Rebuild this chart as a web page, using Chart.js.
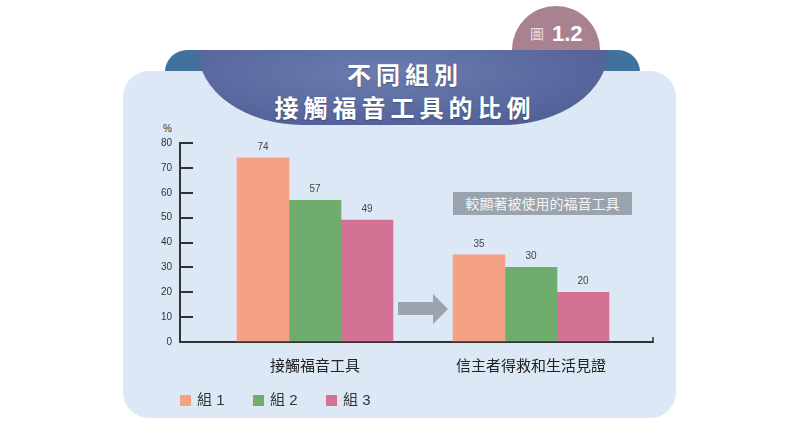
<!DOCTYPE html>
<html lang="zh-Hant">
<head>
    <meta charset="UTF-8">
    <title>不同組別接觸福音工具的比例</title>
    <script src="https://cdn.jsdelivr.net/npm/chart.js"></script>
    <style>
        body {
            margin: 0;
            width: 800px;
            height: 436px;
            overflow: hidden;
            background: #fff;
            position: relative;
            font-family: "Liberation Sans", "Noto Sans CJK TC", sans-serif;
        }
        .panel {
            position: absolute;
            left: 123px;
            top: 71px;
            width: 553px;
            height: 347px;
            background: #dde8f6;
            border-radius: 26px;
        }
        .ribbon {
            position: absolute;
            left: 165px;
            top: 50px;
            width: 475px;
            height: 26px;
            background: #41729b;
            border-radius: 22px 22px 0 0;
        }
        .badge {
            position: absolute;
            left: 512px;
            top: 6px;
            width: 88px;
            height: 88px;
            border-radius: 50%;
            background: #a98292;
        }
        .badge-text {
            position: absolute;
            left: 530px;
            top: 21px;
            color: #fff;
            white-space: nowrap;
        }
        .badge-text .fig {
            font-family: "Noto Sans CJK TC", sans-serif;
            font-size: 14px;
            color: #eadde2;
            vertical-align: 2px;
            margin-right: 8px;
        }
        .badge-text .num {
            font-family: "Liberation Sans", sans-serif;
            font-weight: bold;
            font-size: 22px;
        }
        .banner {
            position: absolute;
            left: 198px;
            top: 50px;
            width: 410px;
            height: 75px;
            background: radial-gradient(ellipse at 45% 30%, #6b7cb0 0%, #5a6aa0 55%, #4a598e 100%);
            border-radius: 0 0 105px 105px / 0 0 75px 75px;
        }
        .title {
            position: absolute;
            left: 200px;
            width: 400px;
            top: 57px;
            text-align: center;
            color: #fff;
            font-family: "Noto Sans CJK TC", sans-serif;
            font-weight: bold;
            font-size: 24px;
            line-height: 33px;
            letter-spacing: 5px;
            padding-left: 5px;
            text-shadow: 0 1px 2px rgba(0,0,0,0.25);
        }
        .chart-box {
            position: absolute;
            left: 0;
            top: 0;
            width: 800px;
            height: 436px;
        }
        .unit {
            position: absolute;
            left: 163px;
            top: 123px;
            font-size: 10px;
            color: #333;
        }
        .note {
            position: absolute;
            left: 453px;
            top: 192px;
            width: 179px;
            height: 23px;
            line-height: 23px;
            background: #9ba3ae;
            color: #f4f4f4;
            text-align: center;
            font-family: "Noto Sans CJK TC", sans-serif;
            font-size: 14px;
        }
        .arrow {
            position: absolute;
            left: 398px;
            top: 294px;
        }
        .legend {
            position: absolute;
            left: 180px;
            top: 388px;
            font-size: 15px;
            color: #333;
            white-space: nowrap;
        }
        .legend span.item {
            display: inline-block;
            width: 73px;
        }
        .legend i {
            display: inline-block;
            width: 11px;
            height: 11px;
            margin-right: 6px;
            vertical-align: -1px;
        }
        .legend .zh {
            font-family: "Noto Sans CJK TC", sans-serif;
        }
    </style>
</head>
<body>
    <div class="ribbon"></div>
    <div class="badge"></div>
    <div class="badge-text"><span class="fig">圖</span><span class="num">1.2</span></div>
    <div class="panel"></div>
    <div class="banner"></div>
    <div class="title">不同組別<br>接觸福音工具的比例</div>
    <div class="unit">%</div>
    <div class="note">較顯著被使用的福音工具</div>
    <svg class="arrow" width="50" height="31">
        <polygon points="0,8 35,8 35,0 50,15 35,30 35,21 0,21" fill="#9ba3ae"/>
    </svg>
    <div class="chart-box">
        <canvas id="chart"></canvas>
    </div>
    <div class="legend" id="legend"></div>

    <script>
        // categories and series
        const categories = ['接觸福音工具', '信主者得救和生活見證'];
        const groupNames = ['組 1', '組 2', '組 3'];
        const group1 = [74, 35];
        const group2 = [57, 30];
        const group3 = [49, 20];
        const groupColors = ['#f4a184', '#6ead6d', '#d37294'];
        const yTicks = [0, 10, 20, 30, 40, 50, 60, 70, 80];

        const series = [group1, group2, group3];

        // value labels above bars + small end tick on x axis
        const valueLabels = {
            id: 'valueLabels',
            afterDatasetsDraw(chart) {
                const ctx = chart.ctx;
                ctx.save();
                ctx.font = '10px "Liberation Sans", sans-serif';
                ctx.fillStyle = '#444';
                ctx.textAlign = 'center';
                ctx.textBaseline = 'middle';
                chart.data.datasets.forEach((ds, di) => {
                    chart.getDatasetMeta(di).data.forEach((bar, i) => {
                        ctx.fillText(ds.data[i].y, bar.x, bar.y - 11);
                    });
                });
                const area = chart.chartArea;
                ctx.strokeStyle = '#333';
                ctx.lineWidth = 1.5;
                ctx.beginPath();
                ctx.moveTo(area.right, area.bottom);
                ctx.lineTo(area.right, area.bottom - 5);
                ctx.stroke();
                ctx.restore();
            }
        };

        new Chart(document.getElementById('chart'), {
            type: 'bar',
            data: {
                datasets: series.map((values, s) => ({
                    label: groupNames[s],
                    data: values.map((v, i) => ({ x: i, y: v })),
                    backgroundColor: groupColors[s],
                    borderWidth: 0,
                    barThickness: 52
                }))
            },
            options: {
                responsive: true,
                maintainAspectRatio: false,
                animation: false,
                layout: {
                    padding: { left: 140, right: 147, top: 143, bottom: 54 }
                },
                plugins: {
                    legend: { display: false },
                    tooltip: { enabled: false }
                },
                scales: {
                    x: {
                        type: 'linear',
                        offset: false,
                        bounds: 'data',
                        min: -0.625,
                        max: 1.565,
                        afterBuildTicks: scale => {
                            scale.ticks = categories.map((_, i) => ({ value: i }));
                        },
                        afterFit: scale => { scale.height = 40; },
                        grid: { display: false, offset: false },
                        border: { display: true, color: '#333', width: 2 },
                        ticks: {
                            autoSkip: false,
                            maxRotation: 0,
                            padding: 6,
                            color: '#222',
                            font: { family: '"Noto Sans CJK TC", sans-serif', size: 15 },
                            callback: value => categories[value]
                        }
                    },
                    y: {
                        min: 0,
                        max: 80,
                        afterBuildTicks: scale => {
                            scale.ticks = yTicks.map(v => ({ value: v }));
                        },
                        afterFit: scale => { scale.width = 40; },
                        grid: {
                            drawOnChartArea: false,
                            drawTicks: true,
                            tickLength: -13,
                            color: '#333',
                            lineWidth: 2
                        },
                        border: { display: true, color: '#333', width: 2 },
                        ticks: {
                            padding: 21,
                            color: '#333',
                            font: { family: '"Liberation Sans", sans-serif', size: 10 }
                        }
                    }
                }
            },
            plugins: [valueLabels]
        });

        // legend
        const legend = document.getElementById('legend');
        groupNames.forEach((name, i) => {
            const parts = name.split(' ');
            const item = document.createElement('span');
            item.className = 'item';
            item.innerHTML = `<i style="background:${groupColors[i]}"></i><span class="zh">${parts[0]}</span> ${parts[1]}`;
            legend.appendChild(item);
        });
    </script>
</body>
</html>
